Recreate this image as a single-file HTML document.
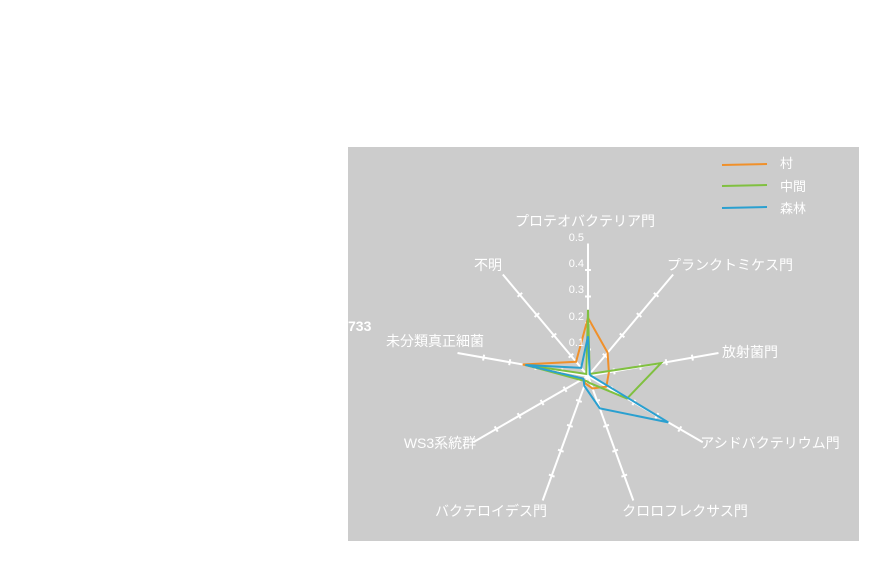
<!DOCTYPE html>
<html><head><meta charset="utf-8"><style>
html,body{margin:0;padding:0;background:#fff;}
svg{display:block;font-family:"Liberation Sans","Noto Sans CJK JP",sans-serif;}
</style></head><body>
<svg id="s" width="872" height="577" viewBox="0 0 872 577">
<rect x="348" y="147" width="511" height="394" fill="#cccccc"/>
<g id="ax" stroke="#fff" stroke-width="2" fill="none"></g>
<g id="data" fill="none" stroke-width="2"></g>
<g fill="#fff" font-size="12">
<text x="585" y="226" text-anchor="middle" font-size="14">プロテオバクテリア門</text>
<text x="730" y="270" text-anchor="middle" font-size="14">プランクトミケス門</text>
<text x="750" y="357" text-anchor="middle" font-size="14">放射菌門</text>
<text x="770" y="448" text-anchor="middle" font-size="14">アシドバクテリウム門</text>
<text x="685" y="516" text-anchor="middle" font-size="14">クロロフレクサス門</text>
<text x="491" y="516" text-anchor="middle" font-size="14">バクテロイデス門</text>
<text x="440" y="448" text-anchor="middle" font-size="14">WS3系統群</text>
<text x="435" y="346" text-anchor="middle" font-size="14">未分類真正細菌</text>
<text x="488" y="270" text-anchor="middle" font-size="14">不明</text>
<text x="584" y="241" text-anchor="end" font-size="11">0.5</text>
<text x="584" y="267" text-anchor="end" font-size="11">0.4</text>
<text x="584" y="293" text-anchor="end" font-size="11">0.3</text>
<text x="584" y="320" text-anchor="end" font-size="11">0.2</text>
<text x="584" y="346" text-anchor="end" font-size="11">0.1</text>
<text x="780" y="168" font-size="13">村</text>
<text x="780" y="191" font-size="13">中間</text>
<text x="780" y="213" font-size="13">森林</text>
<text x="348" y="331" font-size="14" font-weight="bold">733</text>
</g>
<line x1="722" y1="165" x2="767" y2="164" stroke="#f0902a" stroke-width="2"/>
<line x1="722" y1="186" x2="767" y2="185" stroke="#80c040" stroke-width="2"/>
<line x1="722" y1="208" x2="767" y2="207" stroke="#2aa0d0" stroke-width="2"/>
</svg>
<script>
var cx=588,cy=376,u=26.5,ns="http://www.w3.org/2000/svg";
var ax=document.getElementById('ax'),dg=document.getElementById('data');
function pt(i,v){var a=i*40*Math.PI/180;return [cx+Math.sin(a)*v*u*10,cy-Math.cos(a)*v*u*10];}
for(var i=0;i<9;i++){
 var e=pt(i,0.5);var l=document.createElementNS(ns,'line');
 l.setAttribute('x1',cx);l.setAttribute('y1',cy);l.setAttribute('x2',e[0]);l.setAttribute('y2',e[1]);ax.appendChild(l);
 var a=i*40*Math.PI/180,px=Math.cos(a)*3,py=Math.sin(a)*3;
 for(var k=1;k<=4;k++){var p=pt(i,k/10);var t=document.createElementNS(ns,'line');
  t.setAttribute('x1',p[0]-px);t.setAttribute('y1',p[1]-py);t.setAttribute('x2',p[0]+px);t.setAttribute('y2',p[1]+py);ax.appendChild(t);}
}
var sets=[["#f0902a",[0.22,0.115,0.08,0.08,0.05,0.03,0.02,0.25,0.07]],
["#80c040",[0.25,0.01,0.28,0.17,0.03,0.02,0.03,0.24,0.01]],
["#2aa0d0",[0.15,0.01,0.01,0.35,0.13,0.04,0.02,0.24,0.04]]];
sets.forEach(function(s){var pts=[];for(var i=0;i<9;i++){pts.push(pt(i,s[1][i]).join(','));}
 var p=document.createElementNS(ns,'polygon');p.setAttribute('points',pts.join(' '));p.setAttribute('stroke',s[0]);dg.appendChild(p);});
</script>
</body></html>
